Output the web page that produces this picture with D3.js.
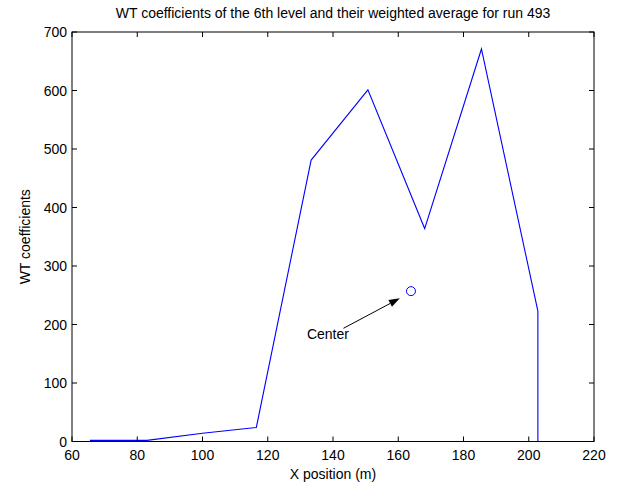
<!DOCTYPE html>
<html>
<head>
<meta charset="utf-8">
<script src="https://cdn.jsdelivr.net/npm/d3@7/dist/d3.min.js"></script>
<style>
  html, body { margin: 0; padding: 0; background: #fff; }
  svg { display: block; }
  text { font-family: "Liberation Sans", Arial, sans-serif; fill: #000; }
</style>
</head>
<body>
<svg id="chart" width="623" height="485"></svg>
<script>
// ---- data ----
const titleText = "WT coefficients of the 6th level and their weighted average for run 493";
const xLabelText = "X position (m)";
const yLabelText = "WT coefficients";
const xPos = [65.5, 83, 100, 116.5, 133.3, 150.7, 168.1, 185.5, 202.8, 202.8];
const wtCoef = [2, 2, 14, 24, 481, 601, 364, 671, 223, 0];
const centerPoint = [163.9, 257];
const annotationText = "Center";
const annotationTextPos = [132, 175];
const arrowFrom = [143.2, 193.5];
const arrowTo = [160.5, 244.8];
const xTicks = [60, 80, 100, 120, 140, 160, 180, 200, 220];
const yTicks = [0, 100, 200, 300, 400, 500, 600, 700];

(function () {
// ---- layout ----
const padL = 72, padR = 594, padT = 32, padB = 441.5;
const svg = d3.select("#chart");
const x = d3.scaleLinear().domain([60, 220]).range([padL, padR]);
const y = d3.scaleLinear().domain([0, 700]).range([padB, padT]);
const tickLen = 5;

const g = svg.append("g");

// data line
const pts = xPos.map((d, i) => [d, wtCoef[i]]);
g.append("path")
  .datum(pts)
  .attr("fill", "none")
  .attr("stroke", "#0000ff")
  .attr("stroke-width", 1.1)
  .attr("stroke-linejoin", "miter")
  .attr("d", d3.line().x(d => x(d[0])).y(d => y(d[1])));

// center marker
g.append("circle")
  .attr("cx", x(centerPoint[0]))
  .attr("cy", y(centerPoint[1]))
  .attr("r", 4.5)
  .attr("fill", "none")
  .attr("stroke", "#0000ff")
  .attr("stroke-width", 1);

// arrow annotation
const ax0 = x(arrowFrom[0]), ay0 = y(arrowFrom[1]);
const ax1 = x(arrowTo[0]), ay1 = y(arrowTo[1]);
const ang = Math.atan2(ay1 - ay0, ax1 - ax0);
const headLen = 11, headW = 3.8;
const bx = ax1 - headLen * Math.cos(ang), by = ay1 - headLen * Math.sin(ang);
g.append("line")
  .attr("x1", ax0).attr("y1", ay0).attr("x2", bx).attr("y2", by)
  .attr("stroke", "#000").attr("stroke-width", 1);
g.append("path")
  .attr("d", `M${ax1},${ay1}L${bx + headW * Math.sin(ang)},${by - headW * Math.cos(ang)}L${bx - headW * Math.sin(ang)},${by + headW * Math.cos(ang)}Z`)
  .attr("fill", "#000");
g.append("text")
  .attr("x", x(annotationTextPos[0]))
  .attr("y", y(annotationTextPos[1]))
  .attr("font-size", 14)
  .text(annotationText);

// axes box
const axG = svg.append("g").attr("stroke", "#000").attr("stroke-width", 1).attr("fill", "none");
axG.append("rect")
  .attr("x", padL).attr("y", padT)
  .attr("width", padR - padL).attr("height", padB - padT);

// ticks (inward, all four sides)
xTicks.forEach(t => {
  const px = x(t);
  axG.append("line").attr("x1", px).attr("x2", px).attr("y1", padB).attr("y2", padB - tickLen);
  axG.append("line").attr("x1", px).attr("x2", px).attr("y1", padT).attr("y2", padT + tickLen);
});
yTicks.forEach(t => {
  const py = y(t);
  axG.append("line").attr("x1", padL).attr("x2", padL + tickLen).attr("y1", py).attr("y2", py);
  axG.append("line").attr("x1", padR).attr("x2", padR - tickLen).attr("y1", py).attr("y2", py);
});

// tick labels
svg.append("g").selectAll("text").data(xTicks).join("text")
  .attr("x", d => x(d))
  .attr("y", 460)
  .attr("text-anchor", "middle")
  .attr("font-size", 14)
  .text(d => d);
svg.append("g").selectAll("text").data(yTicks).join("text")
  .attr("x", 67)
  .attr("y", d => y(d) + 5)
  .attr("text-anchor", "end")
  .attr("font-size", 14)
  .text(d => d);

// labels
svg.append("text")
  .attr("x", (padL + padR) / 2)
  .attr("y", 18)
  .attr("text-anchor", "middle")
  .attr("font-size", 14)
  .text(titleText);
svg.append("text")
  .attr("x", (padL + padR) / 2)
  .attr("y", 479)
  .attr("text-anchor", "middle")
  .attr("font-size", 14)
  .text(xLabelText);
svg.append("text")
  .attr("transform", `translate(30,${(padT + padB) / 2}) rotate(-90)`)
  .attr("text-anchor", "middle")
  .attr("font-size", 14)
  .text(yLabelText);
})();
</script>
</body>
</html>
